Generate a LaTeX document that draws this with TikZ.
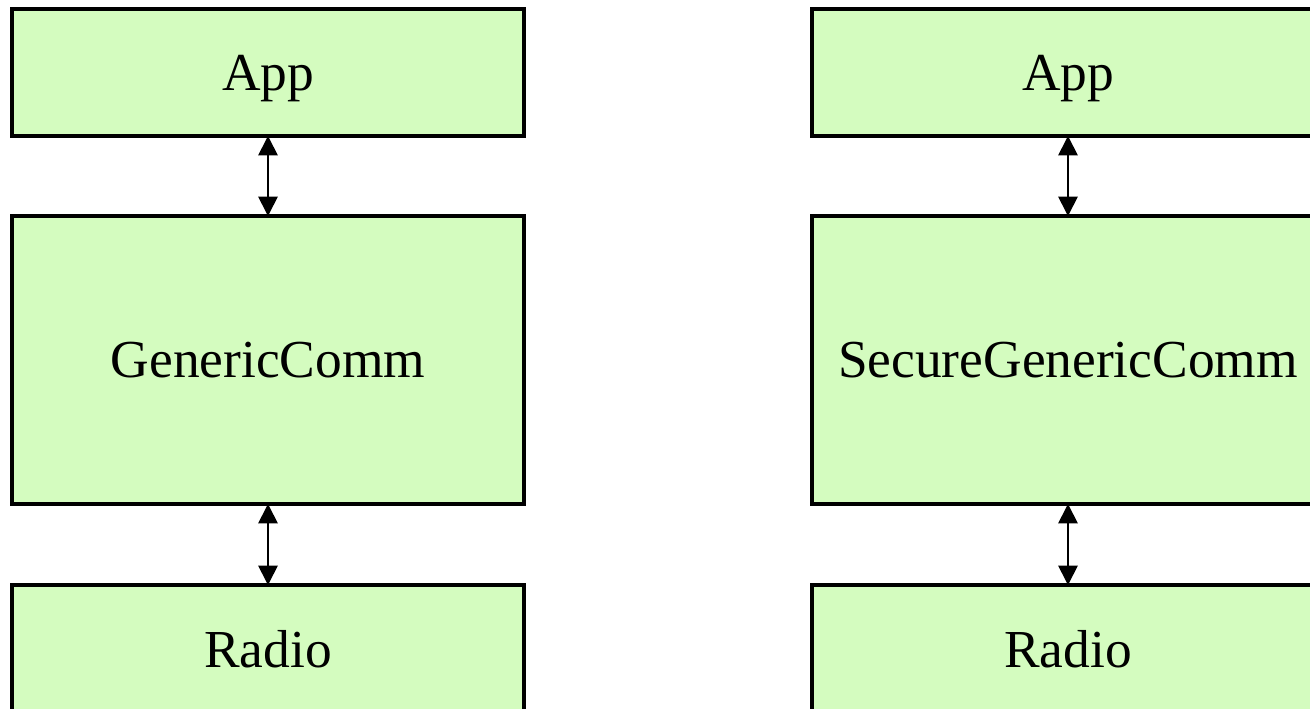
\documentclass[tikz,border=0pt]{standalone}
\usepackage{fontspec}
\setmainfont{Liberation Serif}
\usetikzlibrary{arrows.meta,positioning}
\definecolor{layerc}{HTML}{D4FCBF}
\tikzset{
  layer/.style={draw=black,line width=1.9pt,fill=layerc,minimum width=10.24cm,
    inner sep=0pt,outer sep=0pt,text depth=0pt,font=\fontsize{30.4}{36}\selectfont},
  dblarr/.style={{Triangle[length=11pt,width=11pt]}-{Triangle[length=11pt,width=11pt]},line width=1pt}
}

\begin{document}
\begin{tikzpicture}
\useasboundingbox (0,0) rectangle (26.2,-14.18);
\clip (0,0) rectangle (26.2,-14.18);
% plain stack
\node[layer,minimum height=2.54cm] (app1) at (5.36,-1.45) {App};
\node[layer,minimum height=5.76cm,below=1.6cm of app1] (comm1) {GenericComm};
\node[layer,minimum height=2.56cm,below=1.62cm of comm1] (radio1) {Radio};
% secure stack
\node[layer,minimum height=2.54cm] (app2) at (21.36,-1.45) {App};
\node[layer,minimum height=5.76cm,below=1.6cm of app2] (comm2) {SecureGenericComm};
\node[layer,minimum height=2.56cm,below=1.62cm of comm2] (radio2) {Radio};
\foreach \s in {1,2}{
  \draw[dblarr] (app\s) -- (comm\s);
  \draw[dblarr] (comm\s) -- (radio\s);
}
\end{tikzpicture}
\end{document}
